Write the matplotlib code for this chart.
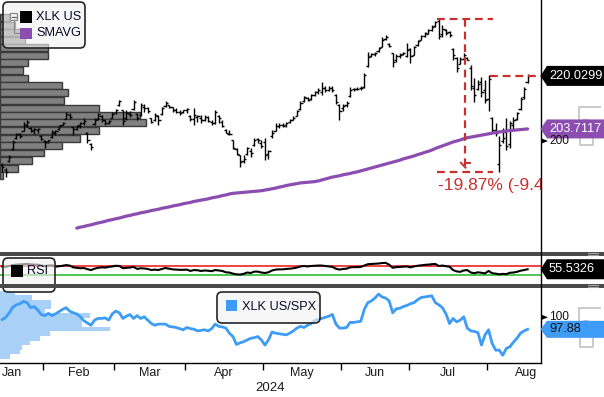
import numpy as np
import matplotlib
matplotlib.use("Agg")
import matplotlib.pyplot as plt
from matplotlib import font_manager
from matplotlib.patches import Polygon, Rectangle, FancyBboxPatch, Ellipse
from matplotlib.lines import Line2D
from matplotlib.transforms import IdentityTransform

# --- XLK US daily bars, trading-day index 0 = 16 Jan 2024 ---
opens = [192.6, 191.2, 193.8, 197.4, 200.8, 202.2, 203.2, 204.9, 204.0, 203.4,
         203.4, 201.6, 200.0, 199.6, 201.2, 202.6, 203.6, 205.0, 206.9, 208.0,
         204.2, 203.8, 204.8, 205.6, 202.6, 199.0, 205.2, 206.8, 207.8, 206.4,
         205.6, 207.2, 208.6, 211.2, 209.4, 207.0, 208.4, 209.8, 208.4, 208.0,
         210.6, 210.2, 207.0, 206.4, 207.6, 208.2, 210.8, 211.0, 210.4, 209.6,
         209.0, 209.0, 209.4, 207.8, 206.8, 207.4, 207.2, 206.6, 207.4, 205.8,
         205.6, 207.6, 205.8, 203.4, 202.2, 200.2, 197.6, 195.6, 193.8, 196.0,
         197.0, 198.8, 200.6, 199.4, 199.6, 196.0, 201.4, 203.2, 204.6, 205.0,
         204.8, 205.8, 206.6, 207.8, 209.8, 212.4, 213.2, 212.8, 214.2, 215.2,
         215.0, 216.4, 215.8, 216.4, 214.2, 211.2, 210.0, 211.0, 213.8, 215.9,
         216.0, 216.2, 216.6, 223.2, 226.0, 226.8, 227.6, 229.0, 231.4, 229.8,
         227.0, 224.8, 226.0, 226.8, 226.2, 228.4, 226.6, 229.4, 231.2, 232.4,
         233.0, 234.0, 235.4, 237.0, 232.8, 234.2, 233.4, 228.4, 225.6, 223.8,
         225.2, 225.6, 222.6, 216.4, 216.0, 218.2, 215.6, 212.8, 207.0, 203.4,
         193.0, 200.0, 202.8, 199.0, 205.0, 206.8, 209.8, 213.6, 218.2]
highs = [193.2, 191.6, 195.8, 200.3, 202.4, 202.5, 205.8, 206.5, 204.2, 204.0,
         204.0, 201.9, 200.3, 200.4, 203.4, 203.4, 204.9, 205.8, 208.9, 208.6,
         204.3, 205.0, 205.8, 207.1, 202.8, 199.4, 207.1, 208.6, 207.9, 206.6,
         206.6, 208.9, 209.8, 212.6, 209.6, 209.4, 209.3, 212.6, 208.7, 211.6,
         211.4, 210.5, 207.2, 208.6, 208.0, 210.5, 212.4, 211.2, 210.6, 210.2,
         209.6, 209.6, 210.0, 208.0, 210.3, 208.0, 208.0, 207.9, 207.8, 206.5,
         209.6, 208.0, 206.6, 203.6, 203.4, 200.4, 198.0, 195.8, 195.6, 198.2,
         198.0, 200.8, 201.0, 200.2, 200.9, 197.2, 203.4, 205.4, 205.5, 205.4,
         205.8, 206.8, 207.6, 209.6, 212.2, 213.8, 213.4, 214.4, 215.4, 216.2,
         218.0, 216.8, 216.9, 216.8, 214.4, 211.4, 211.4, 212.4, 216.6, 216.4,
         216.6, 216.8, 220.9, 227.4, 227.1, 227.4, 228.9, 232.0, 232.6, 230.0,
         227.1, 226.8, 227.0, 227.4, 230.2, 228.6, 229.2, 231.0, 232.5, 233.5,
         234.4, 235.6, 236.9, 237.5, 235.6, 234.6, 233.8, 228.6, 225.8, 225.8,
         227.1, 225.8, 223.4, 219.4, 218.8, 219.7, 218.8, 220.2, 207.4, 205.5,
         201.4, 204.0, 207.0, 206.2, 207.4, 208.9, 213.5, 216.6, 220.6]
lows = [190.6, 188.9, 193.4, 197.2, 200.6, 200.9, 203.0, 204.4, 202.8, 202.2,
        202.6, 200.3, 197.8, 199.3, 200.9, 201.7, 203.4, 204.9, 206.8, 206.9,
        201.8, 203.4, 204.0, 204.9, 199.4, 197.2, 204.9, 206.5, 205.8, 204.9,
        205.2, 207.0, 208.2, 210.9, 204.9, 206.6, 207.4, 209.5, 206.5, 207.8,
        209.0, 208.6, 205.4, 206.2, 204.9, 208.0, 210.4, 210.2, 209.0, 208.6,
        207.9, 208.7, 208.6, 206.3, 204.9, 205.8, 205.6, 206.2, 205.8, 204.9,
        205.2, 205.4, 204.2, 202.4, 201.8, 197.4, 195.6, 192.0, 193.2, 195.8,
        195.0, 198.6, 199.4, 197.8, 194.2, 194.6, 201.0, 203.0, 204.0, 204.2,
        204.4, 205.4, 206.4, 207.6, 209.6, 212.0, 212.2, 212.6, 213.8, 214.4,
        214.2, 215.2, 215.4, 215.2, 211.3, 206.6, 209.2, 210.6, 213.5, 215.4,
        215.6, 215.8, 216.3, 222.8, 225.8, 226.2, 227.4, 228.9, 231.0, 228.8,
        222.8, 224.4, 225.6, 226.4, 225.8, 224.0, 226.4, 229.2, 231.0, 232.0,
        232.8, 233.8, 235.0, 231.4, 232.0, 232.6, 232.0, 224.9, 221.2, 223.6,
        224.9, 224.8, 215.7, 212.0, 215.7, 213.5, 211.7, 209.2, 202.8, 201.6,
        190.31, 199.4, 197.2, 198.0, 203.6, 206.5, 209.5, 213.0, 217.8]
closes = [192.0, 190.4, 195.2, 199.8, 202.0, 201.6, 204.8, 205.9, 203.2, 203.6,
          203.8, 200.6, 199.6, 200.2, 202.9, 203.0, 204.5, 205.5, 208.2, 207.4,
          203.6, 204.6, 205.4, 206.0, 200.4, 198.3, 206.6, 208.2, 206.6, 205.5,
          206.3, 208.4, 209.5, 212.3, 206.2, 208.6, 208.0, 212.0, 207.2, 211.0,
          210.0, 209.1, 205.8, 208.0, 206.4, 210.2, 211.8, 210.6, 209.4, 209.0,
          208.6, 209.4, 209.8, 206.8, 208.0, 207.6, 206.4, 207.4, 206.2, 205.4,
          209.0, 207.0, 204.6, 202.6, 202.2, 197.8, 196.0, 193.4, 194.6, 197.8,
          196.2, 200.4, 200.2, 198.4, 195.6, 196.8, 202.6, 204.6, 204.8, 204.6,
          205.6, 206.4, 207.2, 209.2, 211.6, 213.4, 212.6, 214.0, 215.2, 215.8,
          216.2, 215.6, 216.4, 215.6, 212.0, 209.2, 210.8, 211.8, 215.8, 216.0,
          216.1, 216.4, 220.4, 225.8, 226.8, 227.0, 228.6, 231.2, 232.0, 229.2,
          224.2, 226.2, 226.6, 227.1, 228.0, 226.0, 228.9, 230.8, 232.2, 233.2,
          234.0, 235.2, 236.6, 232.4, 234.4, 233.2, 232.6, 226.4, 222.4, 225.2,
          226.4, 225.0, 216.8, 214.2, 217.6, 215.0, 212.6, 219.0, 203.4, 202.4,
          198.8, 201.0, 198.6, 205.6, 206.4, 208.6, 213.0, 216.0, 220.0299]

# moving average (starts at bar 21)
sma_start = 21
sma = [173.2, 173.5, 173.7, 174.0, 174.2, 174.5, 174.8, 175.0, 175.3, 175.6,
       175.8, 176.1, 176.3, 176.6, 176.9, 177.1, 177.4, 177.6, 177.9, 178.1,
       178.3, 178.6, 178.8, 179.0, 179.3, 179.5, 179.7, 180.0, 180.2, 180.4,
       180.7, 180.9, 181.1, 181.4, 181.6, 181.8, 182.0, 182.2, 182.5, 182.7,
       182.9, 183.2, 183.4, 183.7, 183.9, 184.0, 184.1, 184.2, 184.3, 184.4,
       184.5, 184.6, 184.7, 184.9, 185.1, 185.3, 185.5, 185.8, 186.0, 186.3,
       186.5, 186.7, 186.9, 187.1, 187.2, 187.3, 187.4, 187.5, 187.7, 188.0,
       188.3, 188.6, 188.9, 189.1, 189.3, 189.6, 189.8, 190.0, 190.3, 190.5,
       190.8, 191.1, 191.4, 191.7, 192.0, 192.3, 192.6, 192.9, 193.2, 193.5,
       193.8, 194.1, 194.5, 194.8, 195.1, 195.4, 195.8, 196.1, 196.5, 196.8,
       197.2, 197.7, 198.1, 198.5, 198.9, 199.3, 199.7, 200.0, 200.3, 200.7,
       201.0, 201.2, 201.4, 201.6, 201.8, 202.0, 202.2, 202.4, 202.6, 202.8,
       202.9, 203.1, 203.2, 203.3, 203.4, 203.5, 203.6, 203.7117]

rsi = [68, 66, 70, 74, 76, 77, 78, 79, 77, 76,
       76, 72, 70, 72, 73, 67, 69, 71, 74, 72,
       64, 62, 60, 61, 56, 52, 58, 62, 64, 63,
       66, 68, 71, 70, 60, 62, 63, 66, 57, 60,
       59, 57, 52, 54, 52, 57, 61, 58, 55, 54,
       53, 53, 54, 48, 52, 51, 48, 50, 49, 47,
       52, 50, 48, 42, 41, 36, 33, 32, 35, 41,
       39, 45, 45, 41, 39, 42, 50, 54, 55, 55,
       57, 58, 60, 63, 68, 70, 68, 70, 71, 72,
       72, 70, 68, 66, 58, 54, 57, 58, 64, 65,
       65, 66, 72, 78, 79, 80, 81, 83, 84, 76,
       62, 65, 66, 67, 68, 64, 68, 71, 73, 75,
       76, 78, 79, 70, 72, 69, 67, 52, 46, 44,
       50, 52, 41, 38, 42, 40, 37, 48, 38, 36,
       33, 35, 34, 40, 41, 44, 49, 52, 55.5326]

# XLK US / SPX relative
rel = [99.6, 100.0, 100.8, 101.8, 102.2, 102.4, 102.8, 102.6, 101.7, 101.9,
       101.3, 100.5, 100.3, 100.7, 100.3, 100.6, 101.0, 101.4, 101.7, 101.1,
       100.8, 100.6, 100.1, 99.4, 99.0, 98.6, 99.5, 99.8, 99.8, 99.9,
       99.5, 100.6, 101.1, 100.8, 99.8, 100.2, 100.5, 99.8, 100.3, 99.8,
       100.1, 99.5, 98.9, 98.6, 98.8, 98.8, 98.8, 98.4, 98.3, 98.2,
       98.0, 97.8, 98.2, 98.0, 97.9, 97.6, 97.7, 97.8, 97.6, 98.0,
       98.8, 98.4, 98.3, 98.1, 97.2, 96.6, 95.2, 95.5, 95.7, 96.0,
       96.3, 96.4, 96.6, 96.0, 95.1, 96.0, 97.4, 97.2, 97.1, 97.0,
       96.9, 97.2, 97.6, 98.1, 98.4, 98.2, 98.6, 98.9, 99.4, 99.6,
       99.8, 100.0, 100.2, 100.5, 98.8, 98.1, 98.1, 98.2, 99.1, 99.1,
       99.2, 99.3, 101.4, 102.6, 102.9, 103.4, 104.1, 103.6, 103.4, 102.9,
       100.8, 101.5, 101.6, 101.9, 102.1, 102.4, 102.6, 103.1, 103.5, 103.6,
       103.7, 103.8, 102.6, 102.2, 101.7, 100.6, 98.9, 99.8, 99.2, 99.5,
       100.1, 98.1, 97.6, 97.5, 97.3, 95.1, 96.9, 97.8, 95.4, 94.2,
       94.2, 93.3, 94.5, 94.8, 95.6, 96.3, 97.2, 97.6, 97.88]

# volume at price (left profile of the price panel)
vp_levels = [237.85, 235.54, 233.23, 230.92, 228.62, 226.31, 224.00, 221.69,
             219.38, 217.08, 214.77, 212.46, 210.15, 207.85, 205.54, 203.23,
             200.92, 198.62, 196.31, 194.00, 191.69, 189.38]
vp_volume = [10, 15, 25, 25, 48, 48, 28, 23, 28, 62, 68,
             64, 99, 140, 146, 99, 80, 62, 44, 32, 18, 3]

# distribution of the relative line (left profile of the lower panel)
rel_levels = [104.3, 103.5, 102.7, 101.9, 101.1, 100.3, 99.5, 98.7,
              97.9, 97.1, 96.3, 95.5, 94.7, 93.9, 93.1]
rel_volume = [15, 32, 51, 51, 45, 90, 82, 82, 110, 50, 40, 30, 22, 20, 10]

month_starts = [-9, 12, 32, 52, 74, 96, 115, 137, 159]
month_labels = ["Jan", "Feb", "Mar", "Apr", "May", "Jun", "Jul", "Aug"]
year_label = "2024"

# --- layout helpers (pixel coordinates, origin top-left) ---
W, H = 604, 397
fig = plt.figure(figsize=(W / 100, H / 100), dpi=100)
fig.patch.set_facecolor("white")

names = {f.name for f in font_manager.fontManager.ttflist}
has_narrow = "Liberation Sans Narrow" in names
plt.rcParams["font.family"] = ["Liberation Sans", "DejaVu Sans"]
NARROW = ["Liberation Sans Narrow", "Liberation Sans"] if has_narrow else ["Liberation Sans"]
tag_size = 11 if has_narrow else 9.2
tick_size = 10 if has_narrow else 8.6
note_size = 15 if has_narrow else 12.5

PX = IdentityTransform()


def P(x, y):
    return (x, H - y)


def rect(x0, y0, x1, y1):
    return [x0 / W, 1 - y1 / H, (x1 - x0) / W, (y1 - y0) / H]


XL = (-0.62, 151.77)
PRICE_LIM = (165.85, 243.38)
RSI_LIM = (-10.0, 114.4)
REL_LIM = (91.93, 105.18)
idx = np.arange(len(closes))

purple = "#8b4db0"
blue = "#3d9cf5"
red = "#c8302f"


def clean(a):
    for s in a.spines.values():
        s.set_visible(False)
    a.set_xticks([])
    a.set_yticks([])
    a.set_xlim(*XL)


# --- price panel ---
ax_vp = fig.add_axes(rect(0, 0, 541, 252))
ax_vp.barh(vp_levels, vp_volume, height=2.15, left=0, color="#808080",
           edgecolor="#3a3a3a", linewidth=1.0)
ax_vp.set_xlim(0, 541)
ax_vp.set_ylim(*PRICE_LIM)
ax_vp.axis("off")

ax = fig.add_axes(rect(0, 0, 541, 252))
ax.set_facecolor("none")
clean(ax)
ax.set_ylim(*PRICE_LIM)
ax.vlines(idx, lows, highs, color="black", linewidth=1.0)
ax.hlines(opens, idx - 0.6, idx, color="black", linewidth=1.0)
ax.hlines(closes, idx, idx + 0.6, color="black", linewidth=1.0)
ax.plot(idx[sma_start:], sma, color=purple, linewidth=2.3, solid_capstyle="round")

# drawdown measurement
peak_i = int(np.argmax(highs))
peak = highs[peak_i]
trough_i = peak_i + int(np.argmin(lows[peak_i:]))
trough = lows[trough_i]
drop = (trough / peak - 1) * 100
dash = dict(color=red, linewidth=1.6, linestyle=(0, (3.5, 2.2)))
x0, x1 = peak_i - 0.5, trough_i - 1.7
xm = (x0 + x1) / 2
ax.plot([x0, x1], [peak, peak], **dash)
ax.plot([x0, x1], [trough, trough], **dash)
ax.plot([xm, xm], [peak, trough], **dash)
ax.plot([137.4, XL[1]], [closes[-1]] * 2, **dash)
ax.plot([xm - 1.2, xm + 0.1], [trough + 3.0, trough + 1.5], color=red, linewidth=1.4)
ax.plot([xm + 0.1, xm + 1.5], [trough + 3.0, trough + 3.0], color=red, linewidth=1.4)
ax.text(x0 + 0.3, trough - 3.9, f"{drop:.2f}% (-9.44)", color=red,
        fontsize=note_size, family=NARROW, va="center", ha="left", clip_on=True)

# --- RSI panel ---
ax_rsi = fig.add_axes(rect(0, 256, 541, 284))
clean(ax_rsi)
ax_rsi.set_ylim(*RSI_LIM)
ax_rsi.axhline(70, color="#ee2222", linewidth=1.2)
ax_rsi.axhline(30, color="#33bb33", linewidth=1.2)
ax_rsi.plot(idx, rsi, color="black", linewidth=1.5)

# --- relative panel ---
ax_rh = fig.add_axes(rect(0, 288, 541, 363))
ax_rh.barh(rel_levels, rel_volume, height=0.8, left=0, color="#a9d1f7", linewidth=0)
ax_rh.set_xlim(0, 541)
ax_rh.set_ylim(*REL_LIM)
ax_rh.axis("off")

ax_rel = fig.add_axes(rect(0, 288, 541, 363))
ax_rel.set_facecolor("none")
for s in ax_rel.spines.values():
    s.set_visible(False)
ax_rel.spines["bottom"].set_visible(True)
ax_rel.spines["bottom"].set_linewidth(1.0)
ax_rel.set_yticks([])
ax_rel.set_xlim(*XL)
ax_rel.set_ylim(*REL_LIM)
ax_rel.plot(idx, rel, color=blue, linewidth=2.0)

bounds = np.array(month_starts) - 0.5
centers = (bounds[:-1] + bounds[1:]) / 2
centers[0] = max(centers[0], XL[0] + 3.4)
ax_rel.set_xticks(bounds[1:-1])
ax_rel.tick_params(axis="x", which="major", direction="out", length=5, width=1,
                   labelbottom=False)
ax_rel.set_xticks(centers, labels=month_labels, minor=True)
ax_rel.tick_params(axis="x", which="minor", length=0, pad=3, labelsize=9,
                   labelcolor="#1a1a1a")
fig.text(270.5 / W, 1 - 388 / H, year_label, ha="center", va="center",
         fontsize=9.5, color="#1a1a1a")

# --- panel separators and right edge ---
for ys in (252, 284):
    fig.add_artist(Rectangle(P(0, ys + 4), W, 4, transform=PX,
                             facecolor="#4a4a4a", edgecolor="none", zorder=4))
    for g in (1.3, 2.7):
        fig.add_artist(Line2D([588, 598], [H - ys - g] * 2, transform=PX,
                              color="#a0a0a0", linewidth=0.8, zorder=4))
fig.add_artist(Line2D([540.5, 540.5], [H, H - 363], transform=PX,
                      color="black", linewidth=1.0, zorder=4))


# --- right-hand value tags ---
def ypx(axis, value):
    return H - axis.transData.transform((0, value))[1]


def tag(axis, value, text, face, fg, half):
    y = ypx(axis, value)
    pts = [P(540.5, y), P(547, y - half), P(W, y - half), P(W, y + half), P(547, y + half)]
    fig.add_artist(Polygon(pts, closed=True, transform=PX, facecolor=face,
                           edgecolor="none", zorder=6))
    fig.text(549 / W, 1 - y / H, text, color=fg, fontsize=tag_size, family=NARROW,
             va="center", ha="left", zorder=7)


def tick_mark(axis, value, text):
    y = ypx(axis, value)
    fig.add_artist(Polygon([P(541, y - 2.8), P(541, y + 2.8), P(548, y)], closed=True,
                           transform=PX, facecolor="black", zorder=6))
    fig.text(549 / W, 1 - y / H, text, color="#111111", fontsize=tick_size,
             family=NARROW, va="center", ha="left", zorder=6)


def ghost(yt, yb):
    col = "#b8b8b8"
    g = dict(color=col, linewidth=1.3, alpha=0.8, zorder=5.5, transform=PX)
    hgt = yb - yt
    fig.add_artist(Line2D([600, 579, 579], [H - yt, H - yt, H - (yt + hgt * 0.32)], **g))
    fig.add_artist(Ellipse(P(586, yt + hgt * 0.5), 14, hgt * 0.34, fill=False,
                           edgecolor=col, linewidth=1.3, alpha=0.8, zorder=5.5,
                           transform=PX))
    fig.add_artist(Line2D([580, 580, 593, 593], [H - (yt + hgt * 0.68), H - yb, H - yb,
                                                   H - (yt + hgt * 0.7)], **g))


tick_mark(ax, 200, "200")
ghost(107, 145)
tag(ax, closes[-1], f"{closes[-1]:.4f}", "black", "white", 10)
tag(ax, sma[-1], f"{sma[-1]:.4f}", purple, "white", 9.5)
tag(ax_rsi, rsi[-1], f"{rsi[-1]:.4f}", "black", "white", 10)
tick_mark(ax_rel, 100, "100")
ghost(308, 347)
tag(ax_rel, rel[-1], f"{rel[-1]:.2f}", blue, "#111111", 8.5)


# --- legends ---
def legend_box(xa, ya, xb, yb):
    fig.add_artist(FancyBboxPatch(P(xa, yb), xb - xa, yb - ya, transform=PX,
                                  boxstyle="round,pad=0,rounding_size=5",
                                  facecolor=(0.95, 0.95, 0.95, 0.62),
                                  edgecolor="#262626", linewidth=1.2, zorder=3))


def swatch(xa, ya, size, color):
    fig.add_artist(Rectangle(P(xa, ya + size), size, size, transform=PX,
                             facecolor=color, edgecolor="none", zorder=3.5))


def label(x, y, text):
    fig.text(x / W, 1 - y / H, text, fontsize=9.2, color="#0a0a28",
             va="center", ha="left", zorder=3.6)


legend_box(3, 2, 85, 48)
fig.add_artist(Rectangle(P(10, 20), 7, 7, transform=PX, facecolor="#f4f4f4",
                         edgecolor="#8a8a8a", linewidth=0.9, zorder=3.5))
fig.add_artist(Line2D([11.5, 15.5], [H - 16.5] * 2, transform=PX, color="#6a6a6a",
                      linewidth=0.9, zorder=3.6))
fig.add_artist(Line2D([13.5, 13.5, 20], [H - 20, H - 33, H - 33], transform=PX,
                      color="#8a8a8a", linewidth=0.9, zorder=3.5))
swatch(20, 11, 11.5, "black")
label(36, 17.5, "XLK US")
swatch(20, 27.5, 11.5, purple)
label(36, 33.5, "SMAVG")

legend_box(3, 258, 55, 292)
swatch(11, 265, 11.5, "black")
label(27, 271.5, "RSI")

legend_box(217, 292, 320, 323)
swatch(226, 300, 11, blue)
label(242, 306.5, "XLK US/SPX")

fig.savefig("out.png", dpi=100)
